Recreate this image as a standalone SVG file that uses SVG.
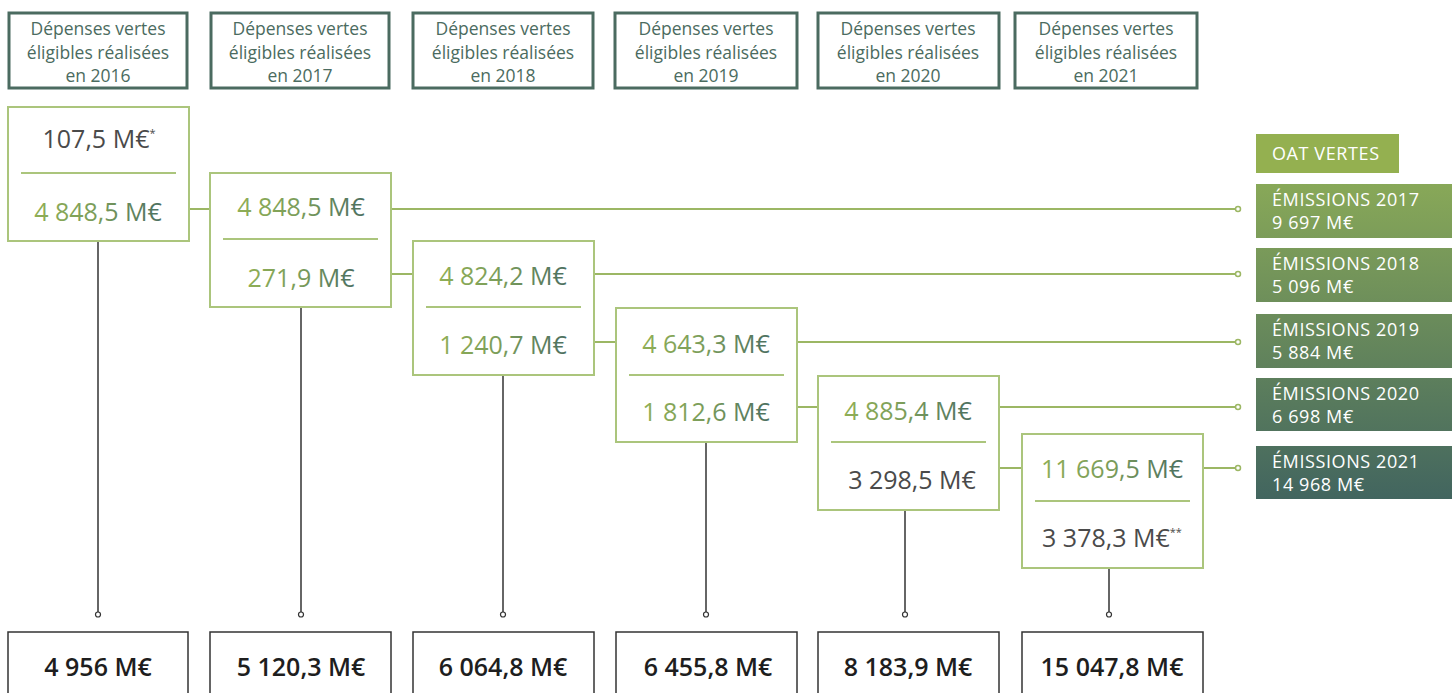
<svg xmlns="http://www.w3.org/2000/svg" width="1456" height="693" viewBox="0 0 1456 693">
<defs>
<linearGradient id="tg" x1="0" y1="0" x2="1" y2="0">
<stop offset="0" stop-color="#8fae55"/>
<stop offset="0.5" stop-color="#7a9c5a"/>
<stop offset="1" stop-color="#4c6f60"/>
</linearGradient>
<linearGradient id="bg" gradientUnits="userSpaceOnUse" x1="0" y1="184" x2="0" y2="499">
<stop offset="0" stop-color="#88a858"/>
<stop offset="1" stop-color="#42655f"/>
</linearGradient>
</defs>
<style>
.hdr rect{fill:#fff;stroke:#4b6b60;stroke-width:3}
.hdr text{font-family:"Open Sans","DejaVu Sans",sans-serif;font-size:17.5px;fill:#4b6b60;text-anchor:middle}
.gb rect{fill:#fff;stroke:#abc57c;stroke-width:2}
.gb line{stroke:#abc57c;stroke-width:2}
.gb text{font-family:"Open Sans","DejaVu Sans",sans-serif;font-size:25px;font-weight:500;text-anchor:middle;fill:url(#tg)}
.gb text.gray{fill:#4a4a4a}
.bb rect{fill:#fff;stroke:#333;stroke-width:1.5}
.bb text{font-family:"Open Sans","DejaVu Sans",sans-serif;font-size:25px;font-weight:600;fill:#1e1e1e;text-anchor:middle}
.em rect{fill:url(#bg)}
.em text{font-family:"Open Sans","DejaVu Sans",sans-serif;font-size:18px;font-weight:500;letter-spacing:0.6px;fill:#fff}
.gl{stroke:#9cb764;stroke-width:2;fill:none}
.gc{stroke:#9cb764;stroke-width:1.5;fill:#fff}
.kl{stroke:#333;stroke-width:1.5;fill:none}
.kc{stroke:#333;stroke-width:1.2;fill:#fff}
</style>

<g id="headers">
<g id="h2016" class="hdr"><rect x="9" y="13" width="178" height="75"/><text x="98" y="35">Dépenses vertes</text><text x="98" y="58.5">éligibles réalisées</text><text x="98" y="82">en 2016</text></g>
<g id="h2017" class="hdr"><rect x="211" y="13" width="178" height="75"/><text x="300" y="35">Dépenses vertes</text><text x="300" y="58.5">éligibles réalisées</text><text x="300" y="82">en 2017</text></g>
<g id="h2018" class="hdr"><rect x="413" y="13" width="180" height="75"/><text x="503" y="35">Dépenses vertes</text><text x="503" y="58.5">éligibles réalisées</text><text x="503" y="82">en 2018</text></g>
<g id="h2019" class="hdr"><rect x="615" y="13" width="182" height="75"/><text x="706" y="35">Dépenses vertes</text><text x="706" y="58.5">éligibles réalisées</text><text x="706" y="82">en 2019</text></g>
<g id="h2020" class="hdr"><rect x="818" y="13" width="181" height="75"/><text x="908" y="35">Dépenses vertes</text><text x="908" y="58.5">éligibles réalisées</text><text x="908" y="82">en 2020</text></g>
<g id="h2021" class="hdr"><rect x="1015" y="13" width="182" height="75"/><text x="1106" y="35">Dépenses vertes</text><text x="1106" y="58.5">éligibles réalisées</text><text x="1106" y="82">en 2021</text></g>
</g>

<g id="connectors">
<line class="gl" x1="189" y1="209" x2="210" y2="209"/>
<line class="gl" x1="391" y1="209" x2="1236" y2="209"/>
<line class="gl" x1="391" y1="274" x2="413" y2="274"/>
<line class="gl" x1="594" y1="274" x2="1236" y2="274"/>
<line class="gl" x1="594" y1="342" x2="616" y2="342"/>
<line class="gl" x1="797" y1="342" x2="1236" y2="342"/>
<line class="gl" x1="797" y1="407" x2="818" y2="407"/>
<line class="gl" x1="999" y1="407" x2="1236" y2="407"/>
<line class="gl" x1="999" y1="468" x2="1022" y2="468"/>
<line class="gl" x1="1203" y1="468" x2="1236" y2="468"/>
<circle class="gc" cx="1238" cy="209" r="2.5"/>
<circle class="gc" cx="1238" cy="274" r="2.5"/>
<circle class="gc" cx="1238" cy="342" r="2.5"/>
<circle class="gc" cx="1238" cy="407" r="2.5"/>
<circle class="gc" cx="1238" cy="468" r="2.5"/>
<line class="kl" x1="98" y1="241" x2="98" y2="612"/>
<line class="kl" x1="301" y1="307" x2="301" y2="612"/>
<line class="kl" x1="503" y1="375" x2="503" y2="612"/>
<line class="kl" x1="706" y1="442" x2="706" y2="612"/>
<line class="kl" x1="905" y1="510" x2="905" y2="612"/>
<line class="kl" x1="1109" y1="568" x2="1109" y2="612"/>
<circle class="kc" cx="98" cy="614.5" r="2.5"/>
<circle class="kc" cx="301" cy="614.5" r="2.5"/>
<circle class="kc" cx="503" cy="614.5" r="2.5"/>
<circle class="kc" cx="706" cy="614.5" r="2.5"/>
<circle class="kc" cx="905" cy="614.5" r="2.5"/>
<circle class="kc" cx="1109" cy="614.5" r="2.5"/>
</g>

<g id="g2016" class="gb"><rect x="8" y="107" width="181" height="134"/><text class="gray" x="99" y="148">107,5 M€<tspan font-size="11" dy="-11">*</tspan></text><line x1="21" y1="173" x2="176" y2="173"/><text x="98" y="221">4 848,5 M€</text></g>
<g id="g2017" class="gb"><rect x="210" y="173" width="181" height="134"/><text x="301" y="216">4 848,5 M€</text><line x1="223" y1="239" x2="378" y2="239"/><text x="301" y="287">271,9 M€</text></g>
<g id="g2018" class="gb"><rect x="413" y="241" width="181" height="134"/><text x="503" y="285">4 824,2 M€</text><line x1="426" y1="307" x2="581" y2="307"/><text x="503" y="354">1 240,7 M€</text></g>
<g id="g2019" class="gb"><rect x="616" y="308" width="181" height="134"/><text x="706" y="353">4 643,3 M€</text><line x1="629" y1="375" x2="784" y2="375"/><text x="706" y="421">1 812,6 M€</text></g>
<g id="g2020" class="gb"><rect x="818" y="376" width="181" height="134"/><text x="908" y="420">4 885,4 M€</text><line x1="831" y1="442" x2="986" y2="442"/><text class="gray" x="912" y="489">3 298,5 M€</text></g>
<g id="g2021" class="gb"><rect x="1022" y="434" width="181" height="134"/><text x="1112" y="478">11 669,5 M€</text><line x1="1035" y1="501" x2="1190" y2="501"/><text class="gray" x="1112" y="547">3 378,3 M€<tspan font-size="11" dy="-11">**</tspan></text></g>

<g id="t2016" class="bb"><rect x="8" y="632" width="180" height="70"/><text x="98" y="676">4 956 M€</text></g>
<g id="t2017" class="bb"><rect x="210" y="632" width="181" height="70"/><text x="301" y="676">5 120,3 M€</text></g>
<g id="t2018" class="bb"><rect x="413" y="632" width="181" height="70"/><text x="503" y="676">6 064,8 M€</text></g>
<g id="t2019" class="bb"><rect x="616" y="632" width="181" height="70"/><text x="708" y="676">6 455,8 M€</text></g>
<g id="t2020" class="bb"><rect x="818" y="632" width="181" height="70"/><text x="908" y="676">8 183,9 M€</text></g>
<g id="t2021" class="bb"><rect x="1022" y="632" width="181" height="70"/><text x="1112" y="676">15 047,8 M€</text></g>

<g id="oat"><rect x="1256" y="134" width="143" height="39" fill="#94b050"/><text x="1272" y="160" font-family="Open Sans, DejaVu Sans, sans-serif" font-size="18" font-weight="500" letter-spacing="0.6" fill="#fff">OAT VERTES</text></g>
<g id="e2017" class="em"><rect x="1256" y="184" width="196" height="54"/><text x="1272" y="206">ÉMISSIONS 2017</text><text x="1272" y="229" font-size="16.5">9 697 M€</text></g>
<g id="e2018" class="em"><rect x="1256" y="248" width="196" height="54"/><text x="1272" y="270">ÉMISSIONS 2018</text><text x="1272" y="293" font-size="16.5">5 096 M€</text></g>
<g id="e2019" class="em"><rect x="1256" y="314" width="196" height="54"/><text x="1272" y="336">ÉMISSIONS 2019</text><text x="1272" y="359" font-size="16.5">5 884 M€</text></g>
<g id="e2020" class="em"><rect x="1256" y="378" width="196" height="53"/><text x="1272" y="400">ÉMISSIONS 2020</text><text x="1272" y="423" font-size="16.5">6 698 M€</text></g>
<g id="e2021" class="em"><rect x="1256" y="446" width="196" height="53"/><text x="1272" y="468">ÉMISSIONS 2021</text><text x="1272" y="491" font-size="16.5">14 968 M€</text></g>
</svg>
